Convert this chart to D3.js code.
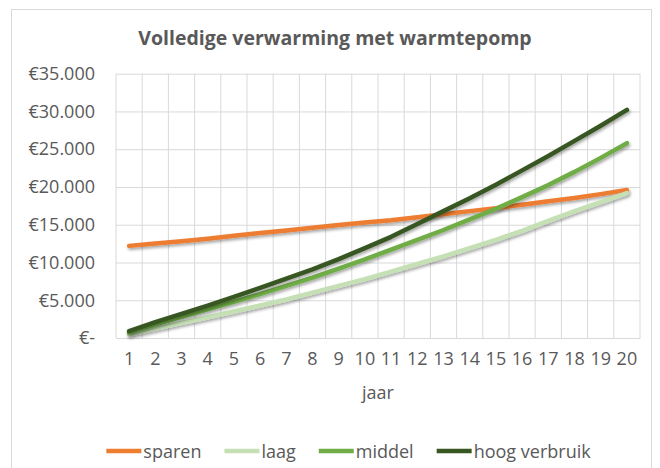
<!DOCTYPE html>
<html>
<head>
<meta charset="utf-8">
<script src="https://cdn.jsdelivr.net/npm/d3@7"></script>
<style>
  html, body { margin: 0; padding: 0; background: #fff; }
  svg { display: block; font-family: "Open Sans", "Noto Sans", sans-serif; }
</style>
</head>
<body>
<div id="chart"></div>
<script>
// data
const years = d3.range(1, 21).map(String);
const sparen = [12200, 12500, 12800, 13150, 13550, 13900, 14250, 14600, 14950, 15300,
                15600, 16000, 16400, 16800, 17200, 17650, 18100, 18550, 19050, 19600];
const laag = [450, 1250, 2000, 2750, 3500, 4300, 5100, 6000, 6900, 7800,
              8800, 9800, 10800, 11900, 13000, 14200, 15500, 16800, 18000, 19200];
const middel = [700, 1800, 2800, 3800, 4800, 5800, 6900, 8000, 9200, 10400,
                11700, 13000, 14300, 15700, 17100, 18650, 20250, 22000, 23850, 25800];
const hoog = [900, 2100, 3200, 4300, 5450, 6650, 7850, 9100, 10450, 11900,
              13400, 15100, 16800, 18500, 20300, 22200, 24100, 26100, 28100, 30200];
const yTicks = [0, 5000, 10000, 15000, 20000, 25000, 30000, 35000];

const series = [
  { name: 'sparen', values: sparen, color: '#ed7d31' },
  { name: 'laag', values: laag, color: '#c5e0b4' },
  { name: 'middel', values: middel, color: '#70ad47' },
  { name: 'hoog verbruik', values: hoog, color: '#385723' }
];

const W = 660, H = 468;
const margin = { top: 73.7, right: 20, bottom: 130, left: 116 };
const plotW = 640 - margin.left;
const plotH = 338 - margin.top;

const svg = d3.select('#chart').append('svg')
  .attr('width', W)
  .attr('height', H);

// drop shadow like the office line style
const defs = svg.append('defs');
const shadow = defs.append('filter').attr('id', 'shadow')
  .attr('x', '-10%').attr('y', '-10%').attr('width', '120%').attr('height', '130%');
shadow.append('feDropShadow')
  .attr('dx', 1.2).attr('dy', 2)
  .attr('stdDeviation', 1.4)
  .attr('flood-color', '#000')
  .attr('flood-opacity', 0.35);

// chart frame
svg.append('rect')
  .attr('x', 11.5).attr('y', 9.5)
  .attr('width', 640).attr('height', 470)
  .attr('fill', '#fff')
  .attr('stroke', '#d9d9d9');

svg.append('text')
  .attr('x', 335).attr('y', 45)
  .attr('text-anchor', 'middle')
  .attr('font-size', 19.5)
  .attr('font-weight', 700)
  .attr('fill', '#595959')
  .text('Volledige verwarming met warmtepomp');

const g = svg.append('g')
  .attr('transform', `translate(${margin.left},${margin.top})`);

const x = d3.scaleBand().domain(years).range([0, plotW]);
const y = d3.scaleLinear().domain([0, 35000]).range([plotH, 0]);

const nl = d3.formatLocale({ decimal: ',', thousands: '.', grouping: [3], currency: ['€', ''] });
const fmt = v => v === 0 ? '€-' : '€' + nl.format(',')(v);

// vertical grid on band edges
g.append('g')
  .selectAll('line')
  .data(years.concat(['end']))
  .join('line')
  .attr('x1', (d, i) => i * x.bandwidth())
  .attr('x2', (d, i) => i * x.bandwidth())
  .attr('y1', 0).attr('y2', plotH)
  .attr('stroke', '#d9d9d9');

// horizontal grid + y labels
g.append('g')
  .call(d3.axisLeft(y).tickValues(yTicks).tickSize(-plotW).tickFormat(fmt).tickPadding(21))
  .call(a => a.select('.domain').remove())
  .call(a => a.selectAll('.tick line').attr('stroke', '#d9d9d9'))
  .call(a => a.selectAll('.tick text')
    .attr('font-size', 18).attr('fill', '#595959')
    .attr('font-family', '"Open Sans", sans-serif'));

// x axis
g.append('g')
  .attr('transform', `translate(0,${plotH})`)
  .call(d3.axisBottom(x).tickSize(0).tickPadding(14))
  .call(a => a.select('.domain').attr('stroke', '#d9d9d9'))
  .call(a => a.selectAll('.tick text')
    .attr('font-size', 18).attr('fill', '#595959')
    .attr('font-family', '"Open Sans", sans-serif'));

svg.append('text')
  .attr('x', margin.left + plotW / 2).attr('y', 399)
  .attr('text-anchor', 'middle')
  .attr('font-size', 18)
  .attr('fill', '#595959')
  .text('jaar');

const line = d3.line()
  .x((d, i) => x(years[i]) + x.bandwidth() / 2)
  .y(d => y(d));

g.append('g').selectAll('path')
  .data(series)
  .join('path')
  .attr('fill', 'none')
  .attr('stroke', d => d.color)
  .attr('stroke-width', 4.5)
  .attr('stroke-linecap', 'round')
  .attr('stroke-linejoin', 'round')
  .attr('filter', 'url(#shadow)')
  .attr('d', d => line(d.values));

// legend, centered under the plot
const legend = svg.append('g');
let lx = 0;
series.forEach(s => {
  const item = legend.append('g').attr('transform', `translate(${lx},0)`);
  item.append('line')
    .attr('x1', 0).attr('x2', 35)
    .attr('y1', 0).attr('y2', 0)
    .attr('stroke', s.color)
    .attr('stroke-width', 4.5);
  const t = item.append('text')
    .attr('x', 37).attr('y', 7)
    .attr('font-size', 18)
    .attr('fill', '#595959')
    .text(s.name);
  lx += 37 + t.node().getComputedTextLength() + 23;
});
const legendW = lx - 23;
legend.attr('transform', `translate(${348.5 - legendW / 2},451)`);
</script>
</body>
</html>
